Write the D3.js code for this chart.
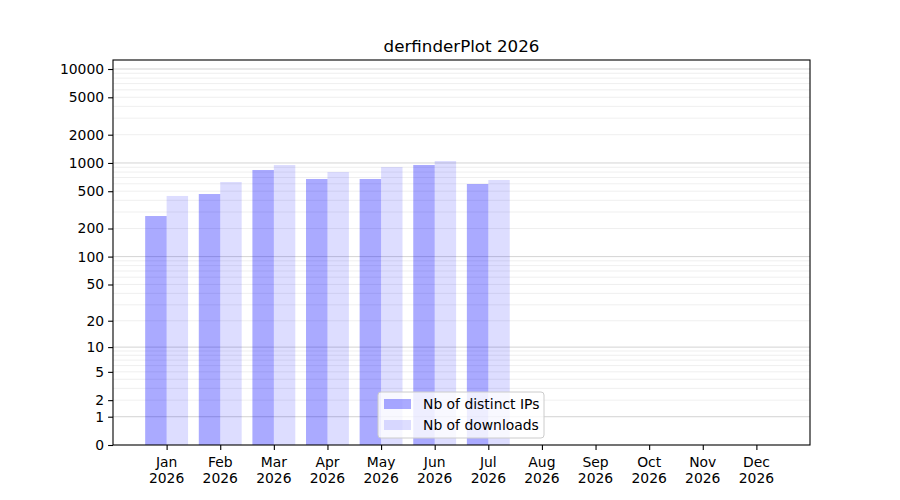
<!DOCTYPE html>
<html>
<head>
<meta charset="utf-8">
<script src="https://cdn.jsdelivr.net/npm/d3@7"></script>
<style>
body { margin: 0; background: #fff; }
text { font-family: "DejaVu Sans", sans-serif; }
</style>
</head>
<body>
<svg id="chart" width="900" height="500"></svg>
<script>
var title = "derfinderPlot 2026";
var months = ["Jan","Feb","Mar","Apr","May","Jun","Jul","Aug","Sep","Oct","Nov","Dec"];
var year = "2026";
var distinctIPs = [272, 467, 842, 675, 675, 952, 597];
var downloads = [445, 627, 952, 801, 905, 1050, 659];
var yTicks = [0, 1, 2, 5, 10, 20, 50, 100, 200, 500, 1000, 2000, 5000, 10000];
var legendLabels = ["Nb of distinct IPs", "Nb of downloads"];

var pLeft = 113, pRight = 810, pTop = 60, pBottom = 445;
var svg = d3.select('#chart');

var x = d3.scaleLinear().domain([0, 13]).range([pLeft, pRight]);
var y = d3.scaleSymlog().constant(1).domain([0, 12470]).range([pBottom, pTop]);

// grid lines, minor then major
var minor = [], major = [];
for (var k = 0; k < 4; k++){
    major.push(Math.pow(10, k));
    for (var m = 2; m < 10; m++) minor.push(m*Math.pow(10, k));
}
major.push(10000);
var grid = svg.append('g').attr('id','grid');
grid.selectAll('.minor').data(minor).enter().append('line')
    .attr('x1',pLeft).attr('x2',pRight).attr('y1',function(d){return y(d)}).attr('y2',function(d){return y(d)})
    .attr('stroke','#ebebeb').attr('stroke-width',0.8);
grid.selectAll('.major').data(major).enter().append('line')
    .attr('x1',pLeft).attr('x2',pRight).attr('y1',function(d){return y(d)}).attr('y2',function(d){return y(d)})
    .attr('stroke','#c8c8c8').attr('stroke-width',0.8);

// bars
var bw = 0.4;
var bars = svg.append('g').attr('id','bars');
bars.selectAll('.ip').data(distinctIPs).enter().append('rect')
    .attr('x',function(d,i){return x(i+1-bw)})
    .attr('width',x(bw)-x(0))
    .attr('y',function(d){return y(d)})
    .attr('height',function(d){return pBottom-y(d)})
    .attr('fill','blue').attr('fill-opacity',0.333);
bars.selectAll('.dl').data(downloads).enter().append('rect')
    .attr('x',function(d,i){return x(i+1)})
    .attr('width',x(bw)-x(0))
    .attr('y',function(d){return y(d)})
    .attr('height',function(d){return pBottom-y(d)})
    .attr('fill','blue').attr('fill-opacity',0.133);

// frame
svg.append('rect').attr('x',pLeft).attr('y',pTop).attr('width',pRight-pLeft).attr('height',pBottom-pTop)
    .attr('fill','none').attr('stroke','#000').attr('stroke-width',1.1);

// y axis
var yAxis = svg.append('g').attr('transform','translate('+pLeft+',0)')
    .call(d3.axisLeft(y).tickValues(yTicks).tickFormat(d3.format('d')).tickSize(4.9).tickPadding(4));
yAxis.select('.domain').remove();
yAxis.selectAll('text').attr('font-size','13.9px').attr('fill','#000').attr('font-family','DejaVu Sans');
yAxis.selectAll('line').attr('stroke','#000').attr('stroke-width',1.1);

// x axis
var xAxis = svg.append('g').attr('transform','translate(0,'+pBottom+')')
    .call(d3.axisBottom(x).tickValues(d3.range(1,13)).tickFormat('').tickSize(4.9));
xAxis.select('.domain').remove();
xAxis.selectAll('line').attr('stroke','#000').attr('stroke-width',1.1);
var xl = svg.append('g');
months.forEach(function(mo, i){
    var t = xl.append('text').attr('x',x(i+1)).attr('y',pBottom+22).attr('text-anchor','middle')
        .attr('font-size','13.9px').attr('fill','#000');
    t.append('tspan').attr('x',x(i+1)).text(mo);
    t.append('tspan').attr('x',x(i+1)).attr('dy','16').text(year);
});

// title
svg.append('text').attr('x',(pLeft+pRight)/2).attr('y',pTop-8).attr('text-anchor','middle')
    .attr('font-size','16.7px').attr('fill','#000').text(title);

// legend
var lg = svg.append('g').attr('transform','translate(378,392)');
lg.append('rect').attr('width',166).attr('height',46).attr('rx',3)
    .attr('fill','#fff').attr('fill-opacity',0.8).attr('stroke','#cccccc').attr('stroke-width',1);
var lop = [0.333, 0.133];
legendLabels.forEach(function(l, i){
    lg.append('rect').attr('x',6).attr('y',7+i*21).attr('width',27).attr('height',10)
        .attr('fill','blue').attr('fill-opacity',lop[i]);
    lg.append('text').attr('x',45).attr('y',17+i*21).attr('font-size','13.9px').attr('fill','#000').text(l);
});
</script>
</body>
</html>
